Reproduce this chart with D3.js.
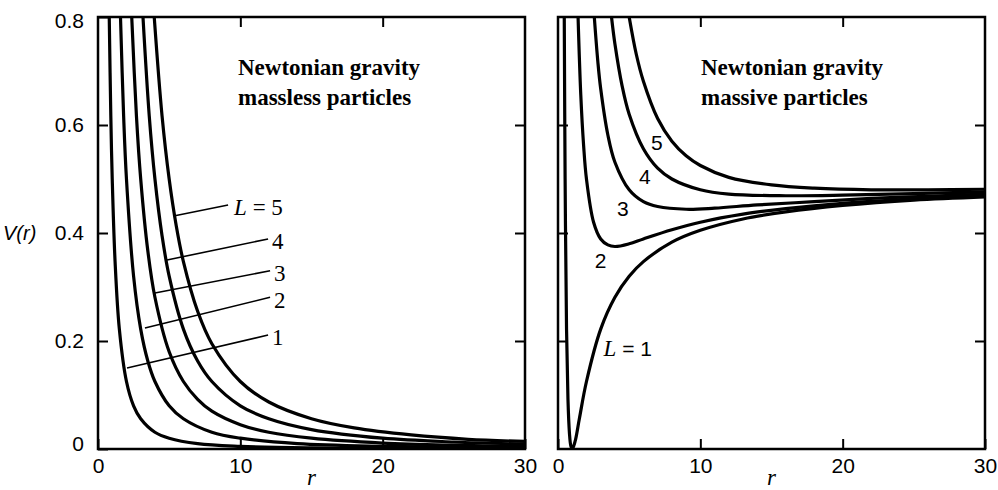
<!DOCTYPE html>
<html>
<head>
<meta charset="utf-8">
<script src="https://cdn.jsdelivr.net/npm/d3@7/dist/d3.min.js"></script>
<style>
  body { margin: 0; background: #fff; }
  svg { display: block; }
</style>
</head>
<body>
<div id="chart"></div>
<script>
// axis ticks
var rTicks = [0, 10, 20, 30];
var vTicks = [0, 0.2, 0.4, 0.6, 0.8];
var Ls = [1, 2, 3, 4, 5];

// left panel, massless particles: [r, V(r)]
var massless1 = [[0.79,0.8],[0.9,0.617],[1.0,0.5],[1.2,0.347],[1.5,0.222],[2,0.125],[2.5,0.08],[3,0.056],[4,0.031],[5,0.02],[7,0.01],[10,0.005],[15,0.002],[20,0.001],[30,0.001]];
var massless2 = [[1.58,0.8],[1.8,0.617],[2,0.5],[2.5,0.32],[3,0.222],[3.5,0.163],[4,0.125],[5,0.08],[6,0.056],[8,0.031],[10,0.02],[14,0.01],[20,0.005],[30,0.002]];
var massless3 = [[2.37,0.8],[2.7,0.617],[3,0.5],[3.5,0.367],[4,0.281],[5,0.18],[6,0.125],[7,0.092],[8,0.07],[10,0.045],[12,0.031],[15,0.02],[20,0.011],[25,0.007],[30,0.005]];
var massless4 = [[3.16,0.8],[3.6,0.617],[4,0.5],[4.5,0.395],[5,0.32],[6,0.222],[7,0.163],[8,0.125],[10,0.08],[12,0.056],[15,0.036],[20,0.02],[25,0.013],[30,0.009]];
var massless5 = [[3.95,0.8],[4.5,0.617],[5,0.5],[5.5,0.413],[6,0.347],[7,0.255],[8,0.195],[10,0.125],[12,0.087],[15,0.056],[18,0.039],[22,0.026],[26,0.018],[30,0.014]];

// right panel, massive particles
var massive1 = [[0.44,0.8],[0.5,0.5],[0.6,0.222],[0.7,0.092],[0.8,0.031],[0.9,0.006],[1.0,0],[1.2,0.014],[1.5,0.056],[2,0.125],[3,0.222],[4,0.281],[5,0.32],[6,0.347],[8,0.383],[10,0.405],[13,0.426],[16,0.439],[20,0.451],[25,0.461],[30,0.467]];
var massive2 = [[1.41,0.8],[1.6,0.656],[1.8,0.562],[2,0.5],[2.5,0.42],[3,0.389],[3.5,0.378],[4,0.375],[5,0.38],[6,0.389],[8,0.406],[10,0.42],[13,0.435],[16,0.445],[20,0.455],[25,0.463],[30,0.469]];
var massive3 = [[2.55,0.8],[2.8,0.717],[3,0.667],[3.5,0.582],[4,0.531],[5,0.48],[6,0.458],[7,0.449],[9,0.444],[11,0.446],[14,0.452],[18,0.458],[22,0.464],[26,0.468],[30,0.472]];
var massive4 = [[3.76,0.8],[4,0.75],[4.5,0.673],[5,0.62],[6,0.556],[7,0.52],[8,0.5],[10,0.48],[12,0.472],[16,0.469],[20,0.47],[25,0.473],[30,0.476]];
var massive5 = [[5,0.8],[5.5,0.731],[6,0.681],[7,0.612],[8,0.57],[9,0.543],[10,0.525],[12,0.503],[15,0.489],[18,0.483],[22,0.48],[26,0.48],[30,0.481]];

// leader lines of the left panel labels: from curve to label, in data units
var leaderFrom = [[2.04,0.15],[3.3,0.224],[4.0,0.289],[4.85,0.35],[5.4,0.432]];
var leaderTo   = [[11.95,0.211],[12.09,0.281],[12.09,0.33],[11.95,0.389],[9.14,0.452]];
// labels of the right panel, in data units
var massiveLabelAt = [[4.9,0.187],[3.0,0.35],[4.55,0.446],[6.1,0.505],[6.95,0.568]];

var masslessCurves = [massless1, massless2, massless3, massless4, massless5];
var massiveCurves = [massive1, massive2, massive3, massive4, massive5];

var width = 998, height = 490;
var pw = 427, ph = 432;
var marginTop = 17;
var lefts = [98, 558];

var x = d3.scaleLinear().domain([0, 30]).range([0, pw]);
var y = d3.scaleLinear().domain([0, 0.8]).range([ph, 0]);

var svg = d3.select("#chart").append("svg")
    .attr("width", width)
    .attr("height", height);

svg.append("defs").append("clipPath")
    .attr("id", "clip")
  .append("rect")
    .attr("width", pw)
    .attr("height", ph);

var line = d3.line()
    .x(function (d) { return x(d[0]); })
    .y(function (d) { return y(d[1]); })
    .curve(d3.curveCatmullRom.alpha(0.5));

function drawPanel(left, curves, withYLabels) {
  var g = svg.append("g")
      .attr("transform", "translate(" + left + "," + marginTop + ")");

  // ticks pointing inward on all four sides
  g.append("g")
      .attr("transform", "translate(0," + ph + ")")
      .call(d3.axisBottom(x).tickValues(rTicks).tickSizeInner(-10).tickSizeOuter(0).tickPadding(9)
        .tickFormat(d3.format("d")));
  g.append("g")
      .call(d3.axisTop(x).tickValues([10, 20]).tickSizeInner(-10).tickSizeOuter(0).tickFormat(""));
  var leftAx = g.append("g")
      .call(d3.axisLeft(y).tickValues(withYLabels ? vTicks : [0.2, 0.4, 0.6]).tickSizeInner(-10).tickSizeOuter(0).tickPadding(14)
        .tickFormat(withYLabels ? function (d) { return d === 0 ? "0" : d3.format(".1f")(d); } : ""));
  g.append("g")
      .attr("transform", "translate(" + pw + ",0)")
      .call(d3.axisRight(y).tickValues([0.2, 0.4, 0.6]).tickSizeInner(-10).tickSizeOuter(0).tickFormat(""));

  g.selectAll(".domain").remove();
  g.selectAll(".tick line").attr("stroke", "#000").attr("stroke-width", 2);
  g.selectAll(".tick text")
      .attr("fill", "#000")
      .style("font-family", "'Liberation Sans', Arial, sans-serif")
      .style("font-size", "21px");
  leftAx.selectAll(".tick text").filter(function (d) { return d === 0; }).attr("dy", "0.05em");
  leftAx.selectAll(".tick text").filter(function (d) { return d === 0.8; }).attr("dy", "0.5em");

  g.append("g")
      .attr("clip-path", "url(#clip)")
    .selectAll("path")
    .data(curves)
    .enter().append("path")
      .attr("d", line)
      .attr("fill", "none")
      .attr("stroke", "#000")
      .attr("stroke-width", 3.2);

  g.append("rect")
      .attr("width", pw)
      .attr("height", ph)
      .attr("fill", "none")
      .attr("stroke", "#000")
      .attr("stroke-width", 2.5);

  g.append("text")
      .attr("x", pw / 2)
      .attr("y", ph + 36)
      .attr("text-anchor", "middle")
      .style("font-family", "'Liberation Serif', 'Times New Roman', serif")
      .style("font-style", "italic")
      .style("font-size", "23px")
      .text("r");
  return g;
}

var gL = drawPanel(lefts[0], masslessCurves, true);
var gR = drawPanel(lefts[1], massiveCurves, false);

var titleFont = "'Liberation Serif', 'Times New Roman', serif";
[[gL, ["Newtonian gravity", "massless particles"]], [gR, ["Newtonian gravity", "massive particles"]]].forEach(function (p) {
  var tx = p[0] === gL ? 140 : 143;
  p[0].append("text")
      .attr("y", 58)
      .style("font-family", titleFont)
      .style("font-weight", "bold")
      .style("font-size", "23px")
    .selectAll("tspan")
    .data(p[1])
    .enter().append("tspan")
      .attr("x", tx)
      .attr("dy", function (d, i) { return i === 0 ? 0 : 30; })
      .text(function (d) { return d; });
});

// y axis title
svg.append("text")
    .attr("x", 3)
    .attr("y", marginTop + y(0.4))
    .attr("dy", "0.35em")
    .style("font-family", "'Liberation Sans', Arial, sans-serif")
    .style("font-style", "italic")
    .style("font-size", "20px")
    .text("V(r)");

// left panel leader lines and labels
gL.selectAll(".leader")
    .data(Ls)
    .enter().append("line")
    .attr("class", "leader")
    .attr("x1", function (d, i) { return x(leaderFrom[i][0]); })
    .attr("y1", function (d, i) { return y(leaderFrom[i][1]); })
    .attr("x2", function (d, i) { return x(leaderTo[i][0]); })
    .attr("y2", function (d, i) { return y(leaderTo[i][1]); })
    .attr("stroke", "#000")
    .attr("stroke-width", 1.6);

var lab = gL.selectAll(".llab")
    .data(Ls)
    .enter().append("text")
    .attr("class", "llab")
    .attr("x", function (d, i) { return x(leaderTo[i][0]) + (d === 5 ? 6 : 4); })
    .attr("y", function (d, i) { return y(leaderTo[i][1]); })
    .attr("dy", "0.45em")
    .style("font-family", titleFont)
    .style("font-size", "23px");
lab.filter(function (d) { return d === 5; }).append("tspan")
    .style("font-style", "italic").text("L");
lab.filter(function (d) { return d === 5; }).append("tspan").text(" = ");
lab.append("tspan").text(function (d) { return d; });

// right panel labels
var rlab = gR.selectAll(".rlab")
    .data(Ls)
    .enter().append("text")
    .attr("class", "rlab")
    .attr("x", function (d, i) { return x(massiveLabelAt[i][0]); })
    .attr("y", function (d, i) { return y(massiveLabelAt[i][1]); })
    .attr("dy", "0.36em")
    .attr("text-anchor", "middle")
    .style("font-family", "'Liberation Sans', Arial, sans-serif")
    .style("font-size", "21px");
rlab.filter(function (d) { return d === 1; }).append("tspan")
    .style("font-family", titleFont).style("font-style", "italic").style("font-size", "23px").text("L");
rlab.filter(function (d) { return d === 1; }).append("tspan").text(" = ");
rlab.append("tspan").text(function (d) { return d; });
</script>
</body>
</html>
